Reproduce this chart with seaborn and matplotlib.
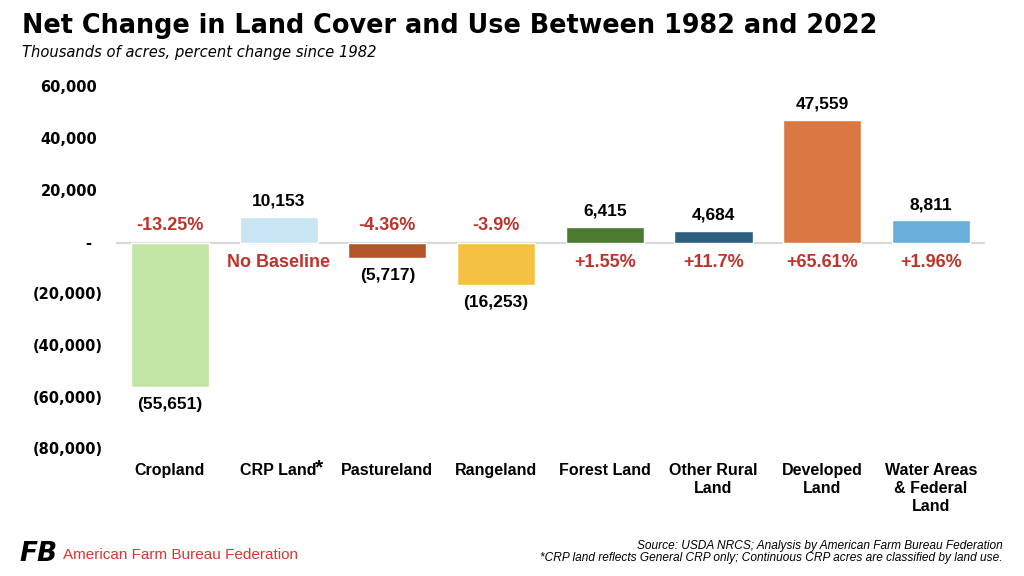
import matplotlib
matplotlib.use("Agg")
import matplotlib.pyplot as plt
import matplotlib.transforms as mtransforms
import seaborn as sns

# ---- data ----
categories = ["Cropland", "CRP Land", "Pastureland", "Rangeland",
              "Forest Land", "Other Rural\nLand", "Developed\nLand",
              "Water Areas\n& Federal\nLand"]
net_change = [-55651, 10153, -5717, -16253, 6415, 4684, 47559, 8811]
value_labels = ["(55,651)", "10,153", "(5,717)", "(16,253)",
                "6,415", "4,684", "47,559", "8,811"]
pct_labels = ["-13.25%", "No Baseline", "-4.36%", "-3.9%",
              "+1.55%", "+11.7%", "+65.61%", "+1.96%"]
bar_colors = ["#c3e5a5", "#c9e4f3", "#b5562a", "#f4c142",
              "#4a7b30", "#2d5f7f", "#da7843", "#69afdc"]
ytick_vals = [60000, 40000, 20000, 0, -20000, -40000, -60000, -80000]
ytick_text = ["60,000", "40,000", "20,000", "-", "(20,000)", "(40,000)",
              "(60,000)", "(80,000)"]

RED = "#c0322b"
NUM_FONT = ["Liberation Sans", "DejaVu Sans"]
CAT_FONT = ["Liberation Sans Narrow", "Liberation Sans", "DejaVu Sans"]

sns.set_style("white")
plt.rcParams["font.family"] = ["DejaVu Sans"]
plt.rcParams["text.color"] = "black"

fig = plt.figure(figsize=(10.24, 5.76), dpi=100)
ax = fig.add_axes([115.6 / 1024, (576 - 450) / 576, 869.6 / 1024, 362 / 576])

sns.barplot(x=list(range(len(categories))), y=net_change,
            hue=list(range(len(categories))), palette=bar_colors,
            width=0.72, legend=False, saturation=1, ax=ax)

ax.set_xlim(-0.5, len(categories) - 0.5)
ax.set_ylim(-80000, 60000)
ax.axhline(0, color="#d9d9d9", lw=1.6, zorder=0)
for s in ax.spines.values():
    s.set_visible(False)
ax.set_xticks([])
ax.set_yticks([])
ax.set_xlabel("")
ax.set_ylabel("")

# y tick labels (accounting style)
ytrans = mtransforms.blended_transform_factory(ax.transAxes, ax.transData)
for v, t in zip(ytick_vals, ytick_text):
    if v > 0:
        xpos, ha = -0.021, "right"
    elif v < 0:
        xpos, ha = -0.0145, "right"
    else:
        xpos, ha = -0.032, "center"
    ax.text(xpos, v, t, transform=ytrans, ha=ha, va="center",
            fontsize=10.5, fontweight="bold", family="DejaVu Sans",
            clip_on=False)

# value and percent labels
for i, (v, vl, pl) in enumerate(zip(net_change, value_labels, pct_labels)):
    if v >= 0:
        ax.annotate(vl, (i, v), xytext=(0, 6), textcoords="offset points",
                    ha="center", va="bottom", fontsize=12.5,
                    fontweight="bold", family=NUM_FONT, annotation_clip=False)
        ax.annotate(pl, (i, 0), xytext=(0, -14), textcoords="offset points",
                    ha="center", va="center", fontsize=13, color=RED,
                    fontweight="bold", family=NUM_FONT, annotation_clip=False)
    else:
        ax.annotate(vl, (i, v), xytext=(0, -7), textcoords="offset points",
                    ha="center", va="top", fontsize=12.5,
                    fontweight="bold", family=NUM_FONT, annotation_clip=False)
        ax.annotate(pl, (i, 0), xytext=(0, 12.5), textcoords="offset points",
                    ha="center", va="center", fontsize=13, color=RED,
                    fontweight="bold", family=NUM_FONT, annotation_clip=False)

# category labels
xtrans = mtransforms.blended_transform_factory(ax.transData, ax.transAxes)
for i, c in enumerate(categories):
    ax.text(i, -0.035, c, transform=xtrans, ha="center", va="top",
            fontsize=11.5, fontweight="bold", family=CAT_FONT,
            linespacing=1.25, clip_on=False)
ax.text(1.375, -0.022, "*", transform=xtrans, ha="center", va="top",
        fontsize=15, fontweight="bold", family=NUM_FONT, clip_on=False)

# title block
fig.text(22 / 1024, 1 - 26 / 576, "Net Change in Land Cover and Use Between 1982 and 2022",
         fontsize=18.4, fontweight="bold", family="DejaVu Sans", va="center")
fig.text(22 / 1024, 1 - 52 / 576, "Thousands of acres, percent change since 1982",
         fontsize=10.6, style="italic", family="DejaVu Sans", va="center")

# footer
fig.text(1003 / 1024, 1 - 546 / 576,
         "Source: USDA NRCS; Analysis by American Farm Bureau Federation",
         fontsize=8.6, style="italic", family=NUM_FONT, ha="right", va="center")
fig.text(1003 / 1024, 1 - 558 / 576,
         "*CRP land reflects General CRP only; Continuous CRP acres are classified by land use.",
         fontsize=8.6, style="italic", family=NUM_FONT, ha="right", va="center")
fig.text(19 / 1024, 1 - 554 / 576, "FB", fontsize=19, fontweight="heavy",
         style="italic", family="DejaVu Sans", va="center")
fig.text(63 / 1024, 1 - 555 / 576, "American Farm Bureau Federation",
         fontsize=11, family=NUM_FONT, va="center", color="#d6392f")

fig.savefig("out.png", dpi=100)
